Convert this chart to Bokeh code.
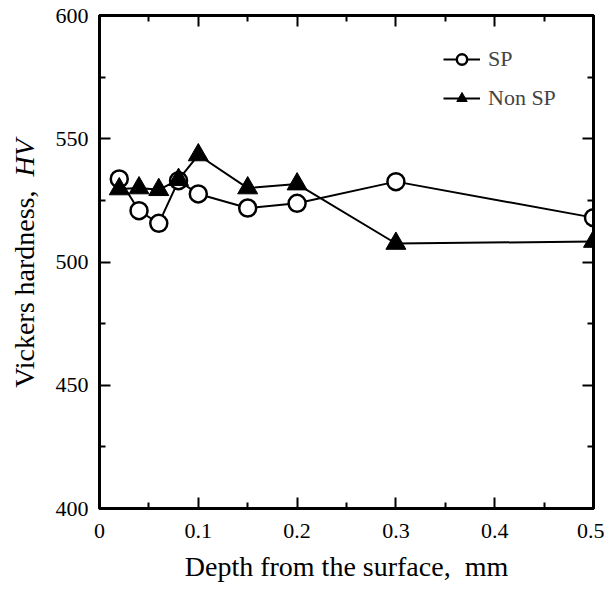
import math
from bokeh.plotting import figure
from bokeh.layouts import row
from bokeh.models import (LinearAxis, FixedTicker, Range1d, Label, Legend, LegendItem)
from bokeh.embed import file_html
from bokeh.resources import INLINE

# ---- data ----
depth_sp = [0.02, 0.04, 0.06, 0.08, 0.10, 0.15, 0.20, 0.30, 0.50]
hv_sp = [533.7, 520.8, 515.7, 533.0, 527.6, 521.9, 523.8, 532.6, 518.0]
depth_nonsp = [0.02, 0.04, 0.06, 0.08, 0.10, 0.15, 0.20, 0.30, 0.50]
hv_nonsp = [529.6, 530.0, 529.3, 533.4, 543.4, 530.0, 531.6, 507.5, 508.3]

x_ticks = [0, 0.1, 0.2, 0.3, 0.4, 0.5]
y_ticks = [400, 450, 500, 550, 600]
x_labels = ["0", "0.1", "0.2", "0.3", "0.4", "0.5"]
y_labels = ["400", "450", "500", "550", "600"]

x_title = "Depth from the surface,\u00a0 mm"
y_title_a = "Vickers hardness,"
y_title_b = "HV"

FONT = "Liberation Serif"

def mids(t):
    return [(a + b) / 2 for a, b in zip(t[:-1], t[1:])]

# ---- narrow strip holding the y-axis title (normal + italic part) ----
ytitle = figure(width=40, height=592, output_backend="svg", toolbar_location=None,
                x_range=Range1d(0, 1), y_range=Range1d(0, 1),
                x_axis_location=None, y_axis_location=None, min_border=0)
ytitle.grid.visible = False
ytitle.outline_line_color = None
ytitle.background_fill_color = "white"
ytitle.border_fill_color = "white"
ytitle.add_layout(Label(x=24, y=190, x_units="canvas", y_units="canvas", angle=math.pi / 2,
                        text=y_title_a, text_align="right", text_baseline="alphabetic",
                        text_font=FONT, text_font_size="28px", text_color="black"))
ytitle.add_layout(Label(x=24, y=176, x_units="canvas", y_units="canvas", angle=math.pi / 2,
                        text=y_title_b, text_align="left", text_baseline="alphabetic",
                        text_font=FONT, text_font_size="28px", text_font_style="italic",
                        text_color="black"))

# ---- main chart ----
p = figure(width=564, height=592, output_backend="svg", toolbar_location=None,
           x_range=Range1d(0, 0.5), y_range=Range1d(400, 600),
           min_border_left=59, min_border_right=11, min_border_top=15, min_border_bottom=84,
           x_axis_location=None, y_axis_location=None)
p.grid.visible = False
p.outline_line_color = "black"
p.outline_line_width = 3
p.background_fill_color = "white"
p.border_fill_color = "white"

xt = FixedTicker(ticks=x_ticks, minor_ticks=mids(x_ticks))
yt = FixedTicker(ticks=y_ticks, minor_ticks=mids(y_ticks))

def style(ax, show_labels, standoff=11):
    ax.axis_line_width = 3
    ax.axis_line_color = "black"
    ax.major_tick_in = 11
    ax.major_tick_out = 0
    ax.minor_tick_in = 6
    ax.minor_tick_out = 0
    ax.major_tick_line_width = 2
    ax.minor_tick_line_width = 2
    ax.major_tick_line_color = "black"
    ax.minor_tick_line_color = "black"
    ax.major_label_text_font = FONT
    ax.major_label_text_color = "black"
    if show_labels:
        ax.major_label_text_font_size = "22px"
        ax.major_label_standoff = standoff
    else:
        ax.major_label_text_font_size = "0px"
        ax.major_label_standoff = 0

xb = LinearAxis(ticker=xt)
style(xb, True, standoff=15)
xb.major_label_overrides = dict(zip(x_ticks, x_labels))
xb.axis_label = x_title
xb.axis_label_text_font = FONT
xb.axis_label_text_font_style = "normal"
xb.axis_label_text_font_size = "28px"
xb.axis_label_text_color = "black"
xb.axis_label_standoff = 10
p.add_layout(xb, "below")

xa = LinearAxis(ticker=xt)
style(xa, False)
xa.major_label_overrides = {t: "" for t in x_ticks}
p.add_layout(xa, "above")

yl = LinearAxis(ticker=yt)
style(yl, True, standoff=11)
yl.major_label_overrides = dict(zip(y_ticks, y_labels))
yl.major_label_orientation = "horizontal"
p.add_layout(yl, "left")

yr = LinearAxis(ticker=yt)
style(yr, False)
yr.major_label_overrides = {t: "" for t in y_ticks}
p.add_layout(yr, "right")

# series
l1 = p.line(depth_sp, hv_sp, line_color="black", line_width=2)
s1 = p.scatter(depth_sp, hv_sp, marker="circle", size=17, fill_color="white",
               line_color="black", line_width=2.5)
l2 = p.line(depth_nonsp, hv_nonsp, line_color="black", line_width=2)
s2 = p.scatter(depth_nonsp, hv_nonsp, marker="triangle", size=20, fill_color="black",
               line_color="black", line_width=1)

legend = Legend(items=[LegendItem(label="SP", renderers=[l1, s1]),
                       LegendItem(label="Non SP", renderers=[l2, s2])],
                location="top_right", margin=31, padding=0, spacing=13,
                glyph_width=37, glyph_height=26, label_height=26, label_width=74,
                label_standoff=8,
                label_text_font=FONT, label_text_font_size="22px",
                background_fill_alpha=0, border_line_color=None)
p.add_layout(legend)

layout = row(ytitle, p, spacing=0)
open("out.html", "w").write(file_html(layout, INLINE))
